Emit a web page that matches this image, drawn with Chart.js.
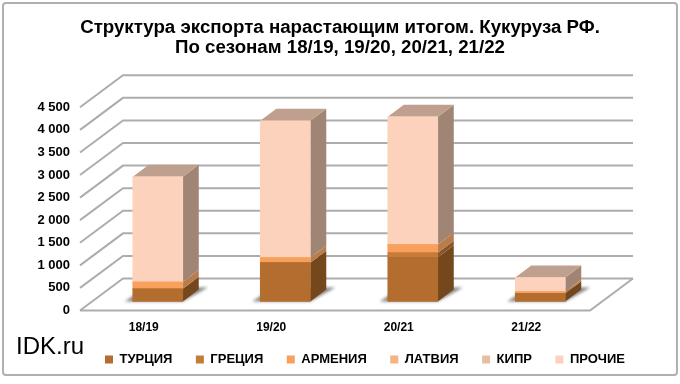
<!DOCTYPE html>
<html>
<head>
<meta charset="utf-8">
<style>html,body{margin:0;padding:0;background:#fff}canvas{display:block}</style>
<script src="https://cdn.jsdelivr.net/npm/chart.js@4/dist/chart.umd.min.js"></script>
</head>
<body>
<canvas id="chart" width="680" height="384"></canvas>
<script>
const seasons = ['18/19', '19/20', '20/21', '21/22'];
const turkey = [280, 860, 980, 180];
const greece = [0, 0, 100, 0];
const armenia = [150, 110, 180, 40];
const latvia = [0, 0, 0, 0];
const cyprus = [0, 0, 0, 0];
const others = [2332, 3030, 2830, 310];
const names = ['ТУРЦИЯ', 'ГРЕЦИЯ', 'АРМЕНИЯ', 'ЛАТВИЯ', 'КИПР', 'ПРОЧИЕ'];
const titleLines = ['Структура экспорта нарастающим итогом. Кукуруза РФ.', 'По сезонам 18/19, 19/20, 20/21, 21/22'];
const FONT = '"Liberation Sans", Arial, sans-serif';

const front = ['#b36d2f', '#c47c38', '#f9a15c', '#f6b27f', '#e9bda2', '#fcd2bc'];
const side = ['#74481c', '#8a5526', '#b97c4a', '#b98a66', '#a88b78', '#a08575'];
const topFace = '#bfa08f';

// hoehe und breite der 3d tiefe
const wallDx = 43, wallDy = 32;
const barDx = 16, barDy = 12;
const legendShift = 25;

function poly(ctx, pts, fill) {
  ctx.beginPath();
  pts.forEach((p, i) => i ? ctx.lineTo(p[0], p[1]) : ctx.moveTo(p[0], p[1]));
  ctx.closePath();
  ctx.fillStyle = fill;
  ctx.fill();
}

const frame3d = {
  id: 'frame3d',
  afterLayout(chart) {
    chart.legend.left += legendShift;
    chart.legend.right += legendShift;
    // sonst schneidet die achse ihre labels ab
    chart.scales.x.bottom += 14;
  },
  beforeDraw(chart) {
    const { ctx, chartArea: a, scales } = chart;
    ctx.save();
    ctx.strokeStyle = '#b0b0b0';
    ctx.lineWidth = 2;
    ctx.beginPath();
    ctx.roundRect(3, 3, 674, 372, 3);
    ctx.stroke();

    ctx.strokeStyle = '#adadad';
    scales.y.ticks.forEach(t => {
      const y = scales.y.getPixelForValue(t.value);
      ctx.beginPath();
      ctx.moveTo(a.left, y);
      ctx.lineTo(a.left + wallDx, y - wallDy);
      ctx.lineTo(a.right + wallDx, y - wallDy);
      if (t.value === 0) {
        ctx.moveTo(a.left, y);
        ctx.lineTo(a.right, y);
        ctx.lineTo(a.right + wallDx, y - wallDy);
      }
      ctx.stroke();
    });

    ctx.fillStyle = '#000';
    ctx.font = '24px ' + FONT;
    ctx.textBaseline = 'middle';
    ctx.fillText('IDK.ru', 16, 347);
    ctx.restore();
  },
  beforeDatasetsDraw(chart) {
    const { ctx } = chart;
    ctx.save();
    // schatten auf dem boden
    chart.getDatasetMeta(0).data.forEach(el => {
      const x0 = el.x - el.width / 2, x1 = el.x + el.width / 2, b = el.base;
      ctx.filter = 'blur(1.5px)';
      poly(ctx, [[x0 - 8, b], [x1, b], [x1 + barDx + 9, b - barDy - 2], [x1 + barDx, b - barDy - 2], [x0 + 4, b - 8]], 'rgba(70,70,70,.65)');
      ctx.filter = 'none';
    });
    // seiten und deckel
    chart.data.datasets.forEach((ds, d) => {
      chart.getDatasetMeta(d).data.forEach(el => {
        if (Math.abs(el.base - el.y) < 0.1) return;
        const x1 = el.x + el.width / 2;
        poly(ctx, [[x1, el.y], [x1 + barDx, el.y - barDy], [x1 + barDx, el.base - barDy], [x1, el.base]], side[d]);
        if (d === chart.data.datasets.length - 1) {
          const x0 = el.x - el.width / 2;
          poly(ctx, [[x0, el.y], [x0 + barDx, el.y - barDy], [x1 + barDx, el.y - barDy], [x1, el.y]], topFace);
        }
      });
    });
    ctx.restore();
  }
};

const series = [turkey, greece, armenia, latvia, cyprus, others];

new Chart(document.getElementById('chart'), {
  type: 'bar',
  data: {
    labels: seasons,
    datasets: series.map((vals, i) => ({
      label: names[i],
      data: vals.map((v, k) => ({ x: k, y: v })),
      backgroundColor: front[i],
      xAxisID: 'xBars',
      yAxisID: 'yBars',
      barThickness: 50
    }))
  },
  options: {
    responsive: false,
    animation: false,
    layout: { padding: { left: 0, right: 0, top: 0, bottom: 8 } },
    plugins: {
      tooltip: { enabled: false },
      title: {
        display: true,
        text: titleLines,
        color: '#000',
        font: { family: FONT, size: 18.7, weight: 'bold', lineHeight: 1.05 },
        padding: { top: 18, bottom: 50 }
      },
      legend: {
        position: 'bottom',
        labels: {
          boxWidth: 8, boxHeight: 8, padding: 23.5, color: '#000',
          font: { family: FONT, size: 13, weight: 'bold' }
        }
      }
    },
    scales: {
      x: {
        type: 'category',
        grid: { display: false },
        border: { display: false },
        ticks: { color: '#000', padding: 2, maxRotation: 0, font: { family: FONT, size: 12, weight: 'bold' } },
        afterFit(s) { s.height = 19; }
      },
      y: {
        type: 'linear',
        min: 0, max: 4500,
        grid: { display: false, drawTicks: false },
        border: { display: false },
        afterFit(s) { s.width = 80; },
        ticks: {
          stepSize: 500, padding: 10, color: '#000',
          font: { family: FONT, size: 13, weight: 'bold' },
          callback: v => String(v).replace(/\B(?=(\d{3})+$)/, ' ')
        }
      },
      // nur platz rechts, ohne striche
      yPad: {
        type: 'linear',
        position: 'right',
        grid: { display: false },
        border: { display: false },
        ticks: { display: false },
        afterFit(s) { s.width = 90; }
      },
      xBars: { type: 'linear', display: false, stacked: true, offset: false, min: -0.61, max: 3.39 },
      yBars: { type: 'linear', display: false, stacked: true, min: -200, max: 4300 }
    }
  },
  plugins: [frame3d]
});
</script>
</body>
</html>
